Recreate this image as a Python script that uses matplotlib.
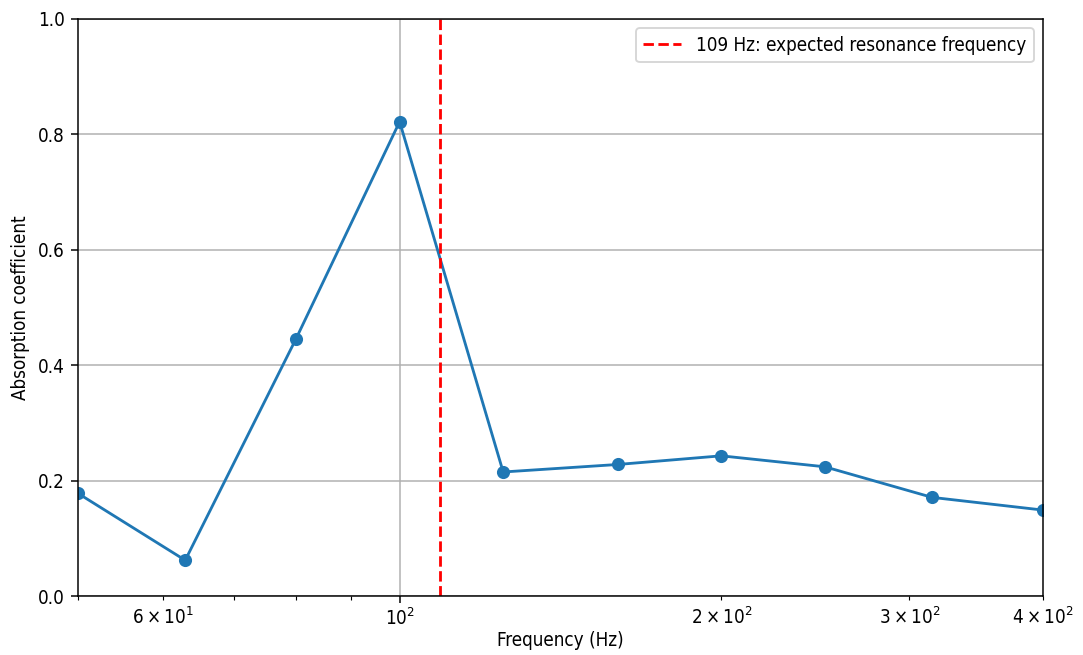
import matplotlib
matplotlib.use("Agg")
import matplotlib.pyplot as plt

# Third-octave band centre frequencies and measured absorption
frequencies = [50, 63, 80, 100, 125, 160, 200, 250, 315, 400]
absorption = [0.178, 0.062, 0.446, 0.822, 0.215, 0.228, 0.243, 0.224, 0.171, 0.149]
resonance_hz = 109

plt.rcParams["font.family"] = ["DejaVu Sans"]
plt.rcParams["font.stretch"] = "condensed"

dpi = 135
fig = plt.figure(figsize=(1083 / dpi, 655 / dpi), dpi=dpi)
ax = fig.add_axes([0.072, 0.090, 0.891, 0.881])

ax.plot(frequencies, absorption, marker="o", color="#1f77b4")
ax.axvline(resonance_hz, color="red", linestyle="--",
           label=f"{resonance_hz} Hz: expected resonance frequency")
ax.set_xscale("log")
ax.set_xlim(50, 400)
ax.set_ylim(0, 1)
ax.set_xlabel("Frequency (Hz)", labelpad=1)
ax.set_ylabel("Absorption coefficient")
ax.tick_params(axis="x", pad=2.5)
ax.grid(True)
ax.legend(loc="upper right")

fig.savefig("out.png", dpi=dpi)
